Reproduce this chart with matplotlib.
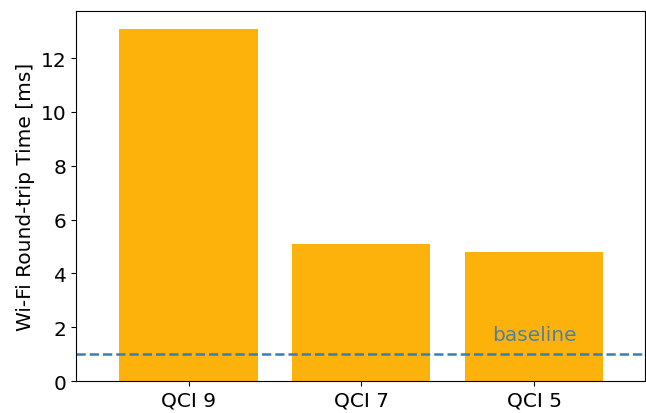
import matplotlib
matplotlib.use("Agg")
import matplotlib.pyplot as plt

categories = ["QCI 9", "QCI 7", "QCI 5"]
rtt_ms = [13.1, 5.1, 4.8]
baseline_ms = 1.0

BAR_COLOR = "#fdb10b"
LINE_COLOR = "#377eb8"

fig, ax = plt.subplots(figsize=(6.46, 4.14), dpi=100)
x = range(len(categories))
ax.bar(x, rtt_ms, width=0.8, color=BAR_COLOR)
ax.axhline(baseline_ms, color=LINE_COLOR, linestyle="--", linewidth=1.8)
ax.text(2, baseline_ms + 0.75, "baseline", color=LINE_COLOR, alpha=0.9,
        ha="center", va="center", fontsize=14.5)

ax.set_xticks(list(x))
ax.set_xticklabels(categories)
ax.set_xlim(-0.65, 2.64)
ax.set_ylim(0, 13.75)
ax.set_ylabel("Wi-Fi Round-trip Time [ms]", fontsize=14.5)
ax.tick_params(labelsize=14.5)

fig.subplots_adjust(left=0.118, right=0.998, top=0.971, bottom=0.077)
fig.savefig("out.png", dpi=100)
